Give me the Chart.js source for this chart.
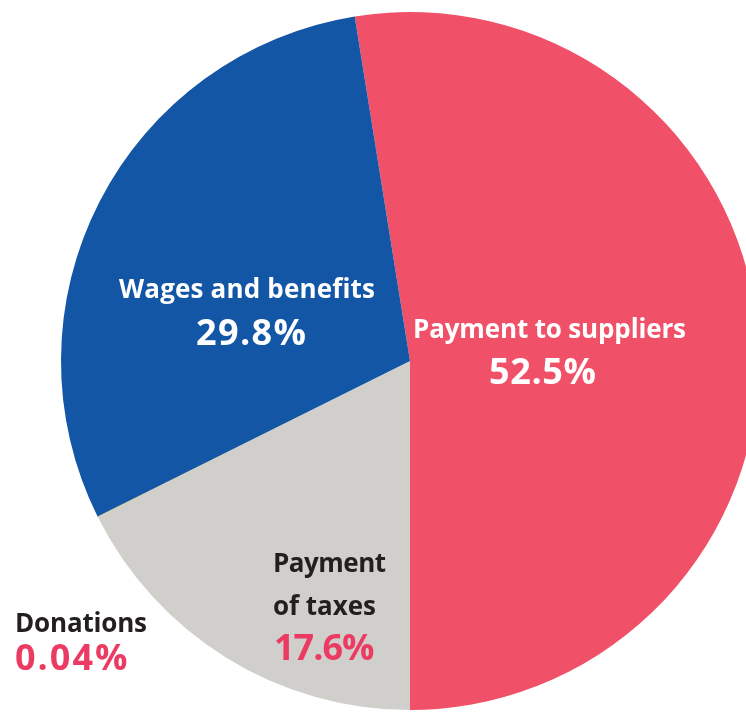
<!DOCTYPE html>
<html>
<head>
<meta charset="utf-8">
<title>Distribution of economic value</title>
<script src="https://cdn.jsdelivr.net/npm/chart.js@4.4.1/dist/chart.umd.min.js"></script>
<style>
  html, body { margin: 0; padding: 0; background: #ffffff; }
  #wrap { position: relative; width: 746px; height: 714px; overflow: hidden; }
  #pie { position: absolute; left: 0; top: 0; }
</style>
</head>
<body>
<div id="wrap"><canvas id="pie" width="820" height="722"></canvas></div>
<script>
// Slices, in drawing order (clockwise)
const categories = ['Payment to suppliers', 'Payment of taxes', 'Donations', 'Wages and benefits'];
const shares = [52.5, 17.6, 0.04, 29.8];               // percent
const sliceColors = ['#F05168', '#D0CFCB', '#C8C688', '#1456A6'];

// Category captions as they are broken over lines
const captionLines = [
  ['Payment to suppliers'],
  ['Payment', 'of taxes'],
  ['Donations'],
  ['Wages and benefits']
];

const pctText = v => String(v) + '%';

// Suppliers slice ends exactly at the bottom of the pie
const total = shares.reduce((a, b) => a + b, 0);
const startRotation = 180 - 360 * shares[0] / total;

const WHITE = '#FFFFFF';
const DARK = '#231F20';
const PINK = '#EC3B63';
const FAMILY = '"Open Sans", "Noto Sans", sans-serif';

// Label blocks: one per slice; x = left edge, y = baselines, w = set width
const labelLayout = [
  { caption: { x: 413, ys: [338], ws: [273], color: WHITE }, value: { x: 489, y: 384, w: 107, color: WHITE } },
  { caption: { x: 273, ys: [572, 615], ws: [113, 103], color: DARK }, value: { x: 274, y: 660, w: 97, color: PINK } },
  { caption: { x: 15, ys: [632], ws: [132], color: DARK }, value: { x: 15, y: 670, w: 113, color: PINK } },
  { caption: { x: 119, ys: [298], ws: [256], color: WHITE }, value: { x: 196, y: 345, w: 110, color: WHITE } }
];

function fitText(ctx, text, x, y, size, width, color) {
  ctx.font = '700 ' + size + 'px ' + FAMILY;
  ctx.letterSpacing = '0px';
  const w0 = ctx.measureText(text).width;
  let sp = text.length > 1 ? (width - w0) / (text.length - 1) : 0;
  sp = Math.max(-1, Math.min(2, sp));
  ctx.letterSpacing = sp.toFixed(2) + 'px';
  ctx.fillStyle = color;
  ctx.textAlign = 'left';
  ctx.textBaseline = 'alphabetic';
  ctx.fillText(text, x, y);
  ctx.letterSpacing = '0px';
}

const sliceLabels = {
  id: 'sliceLabels',
  afterDatasetsDraw(chart) {
    const ctx = chart.ctx;
    ctx.save();
    labelLayout.forEach((lay, i) => {
      captionLines[i].forEach((line, k) => {
        fitText(ctx, line, lay.caption.x, lay.caption.ys[k], 26, lay.caption.ws[k], lay.caption.color);
      });
      fitText(ctx, pctText(shares[i]), lay.value.x, lay.value.y, 36, lay.value.w, lay.value.color);
    });
    ctx.restore();
  }
};

new Chart(document.getElementById('pie'), {
  type: 'pie',
  data: {
    labels: categories,
    datasets: [{
      data: shares,
      backgroundColor: sliceColors,
      borderWidth: 0,
      hoverOffset: 0
    }]
  },
  options: {
    responsive: false,
    devicePixelRatio: 1,
    animation: false,
    rotation: startRotation,
    layout: { padding: { left: 61, right: 61, top: 12, bottom: 12 } },
    plugins: {
      legend: { display: false },
      tooltip: { enabled: false },
      title: { display: false }
    },
    events: []
  },
  plugins: [sliceLabels]
});
</script>
</body>
</html>
